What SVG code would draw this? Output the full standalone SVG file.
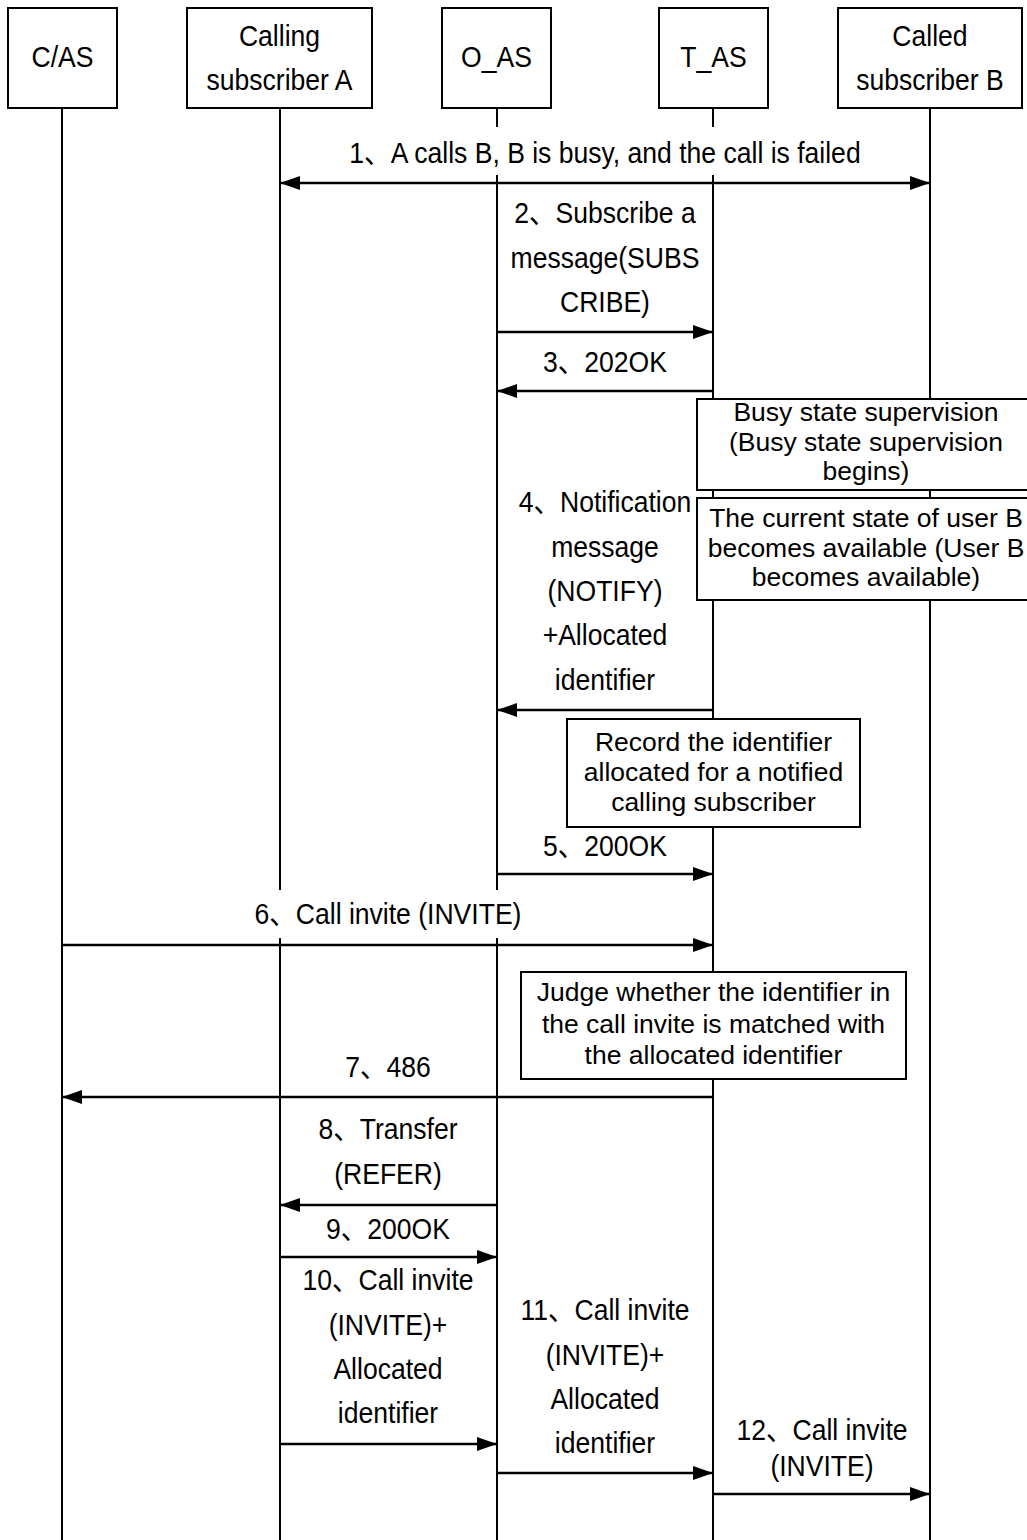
<svg xmlns="http://www.w3.org/2000/svg" width="1027" height="1540" viewBox="0 0 1027 1540">
<style>
text{font-family:"Liberation Sans","Noto Sans CJK SC",Arial,sans-serif;font-size:29.5px;fill:#000;text-anchor:middle}
text.note{font-size:26.5px}
.box{fill:#fff;stroke:#000;stroke-width:2}
.life{stroke:#000;stroke-width:2;fill:none}
.msg{stroke:#000;stroke-width:2.6;fill:none;marker-end:url(#ah)}
.bg{fill:#fff;stroke:none}
</style>
<defs>
<marker id="ah" viewBox="0 0 20 14" refX="20" refY="7" markerWidth="20" markerHeight="14" markerUnits="userSpaceOnUse" orient="auto-start-reverse">
<path d="M0,0 L20,7 L0,14 z" fill="#000"/>
</marker>
</defs>
<rect width="1027" height="1540" fill="#fff"/>
<g id="lifelines">
<line class="life" x1="62" y1="108" x2="62" y2="1540"/>
<line class="life" x1="280" y1="108" x2="280" y2="1540"/>
<line class="life" x1="497" y1="108" x2="497" y2="1540"/>
<line class="life" x1="713" y1="108" x2="713" y2="1540"/>
<line class="life" x1="930" y1="108" x2="930" y2="1540"/>
</g>
<g id="node-cas"><rect class="box" x="8" y="8" width="109" height="100"/><g transform="scale(0.9 1)"><text x="69.44" y="67">C/AS</text></g></g>
<g id="node-a"><rect class="box" x="187" y="8" width="185" height="100"/><g transform="scale(0.9 1)"><text x="310.56" y="46">Calling</text><text x="310.56" y="90">subscriber A</text></g></g>
<g id="node-oas"><rect class="box" x="442" y="8" width="109" height="100"/><g transform="scale(0.9 1)"><text x="551.67" y="67">O_AS</text></g></g>
<g id="node-tas"><rect class="box" x="659" y="8" width="109" height="100"/><g transform="scale(0.9 1)"><text x="792.78" y="67">T_AS</text></g></g>
<g id="node-b"><rect class="box" x="838" y="8" width="184" height="100"/><g transform="scale(0.9 1)"><text x="1033.33" y="46">Called</text><text x="1033.33" y="90">subscriber B</text></g></g>
<g id="note-busy"><rect class="box" x="697" y="399" width="340" height="91"/><text class="note" x="866" y="421">Busy state supervision</text><text class="note" x="866" y="451">(Busy state supervision</text><text class="note" x="866" y="480">begins)</text></g>
<g id="note-available"><rect class="box" x="697" y="498" width="340" height="102"/><text class="note" x="866" y="527">The current state of user B</text><text class="note" x="866" y="557">becomes available (User B</text><text class="note" x="866" y="586">becomes available)</text></g>
<g id="note-record"><rect class="box" x="567" y="719" width="293" height="108"/><text class="note" x="713.5" y="751">Record the identifier</text><text class="note" x="713.5" y="781">allocated for a notified</text><text class="note" x="713.5" y="811">calling subscriber</text></g>
<g id="note-judge"><rect class="box" x="521" y="972" width="385" height="107"/><text class="note" x="713.5" y="1001">Judge whether the identifier in</text><text class="note" x="713.5" y="1033">the call invite is matched with</text><text class="note" x="713.5" y="1064">the allocated identifier</text></g>
<g id="connectors">
<rect class="bg" x="340" y="127" width="530" height="48"/>
<rect class="bg" x="247" y="890" width="283" height="48"/>
<line class="msg" x1="280" y1="183" x2="930" y2="183" marker-start="url(#ah)"/>
<line class="msg" x1="497" y1="332" x2="713" y2="332"/>
<line class="msg" x1="713" y1="391" x2="497" y2="391"/>
<line class="msg" x1="713" y1="710" x2="497" y2="710"/>
<line class="msg" x1="497" y1="874" x2="713" y2="874"/>
<line class="msg" x1="62" y1="945" x2="713" y2="945"/>
<line class="msg" x1="713" y1="1097" x2="62" y2="1097"/>
<line class="msg" x1="497" y1="1205" x2="280" y2="1205"/>
<line class="msg" x1="280" y1="1257" x2="497" y2="1257"/>
<line class="msg" x1="280" y1="1444" x2="497" y2="1444"/>
<line class="msg" x1="497" y1="1473" x2="713" y2="1473"/>
<line class="msg" x1="713" y1="1494" x2="930" y2="1494"/>
<g transform="scale(0.9 1)">
<text x="672.22" y="163">1、A calls B, B is busy, and the call is failed</text>
<text x="672.22" y="223">2、Subscribe a</text><text x="672.22" y="268">message(SUBS</text><text x="672.22" y="312">CRIBE)</text>
<text x="672.22" y="372">3、202OK</text>
<text x="672.22" y="512">4、Notification</text><text x="672.22" y="557">message</text><text x="672.22" y="601">(NOTIFY)</text><text x="672.22" y="645">+Allocated</text><text x="672.22" y="690">identifier</text>
<text x="672.22" y="856">5、200OK</text>
<text x="431.11" y="924">6、Call invite (INVITE)</text>
<text x="431.11" y="1077">7、486</text>
<text x="431.11" y="1139">8、Transfer</text><text x="431.11" y="1184">(REFER)</text>
<text x="431.11" y="1239">9、200OK</text>
<text x="431.11" y="1290">10、Call invite</text><text x="431.11" y="1335">(INVITE)+</text><text x="431.11" y="1379">Allocated</text><text x="431.11" y="1423">identifier</text>
<text x="672.22" y="1320">11、Call invite</text><text x="672.22" y="1365">(INVITE)+</text><text x="672.22" y="1409">Allocated</text><text x="672.22" y="1453">identifier</text>
<text x="913.33" y="1440">12、Call invite</text><text x="913.33" y="1476">(INVITE)</text>
</g>
</g>
</svg>
